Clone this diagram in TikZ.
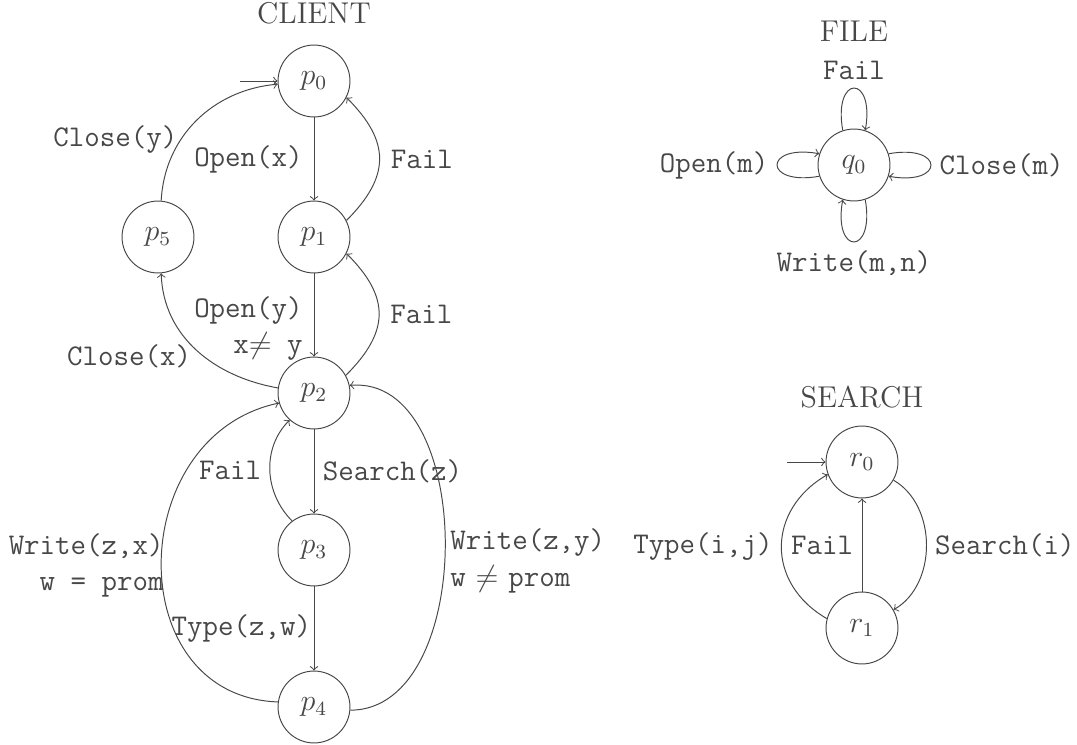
\documentclass[tikz,border=0pt]{standalone}
\definecolor{ink}{HTML}{474747}
\begin{document}
\begin{tikzpicture}[x=0.014457cm,y=-0.014457cm,
  every node/.style={font=\fontsize{12}{14.5}\selectfont, text=ink, scale=1.03},
  st/.style={circle,draw=ink,minimum size=28.7pt,inner sep=0pt},
  tr/.style={draw=ink,->,>=to},
  title/.style={anchor=base}]
\useasboundingbox (0,0) rectangle (1077,745);

% ---------- CLIENT ----------
\node[title] (tc) at (314,23) {CLIENT};
\node[st] (p0) at (314,81) {$p_0$};
\node[st] (p1) at (314,237) {$p_1$};
\node[st] (p2) at (314,393) {$p_2$};
\node[st] (p3) at (314,550) {$p_3$};
\node[st] (p4) at (314,707) {$p_4$};
\node[st] (p5) at (158,237) {$p_5$};
\coordinate (i0) at (240,81);

\draw[tr] (i0) -- (p0);
\draw[tr] (p0) -- node[left,xshift=-1pt] {\texttt{Open(x)}} (p1);
\draw[tr] (p1.27) to[out=45,in=-45,looseness=1.3] node[right,xshift=1pt] {\texttt{Fail}} (p0.-27);
\draw[tr] (p1) -- node[pos=0.66,left,align=right,xshift=-1pt] {\texttt{Open(y)}\\\texttt{x}$\neq$\texttt{ y}} (p2);
\draw[tr] (p2.29) to[out=45,in=-45,looseness=1.3] node[right,xshift=1pt] {\texttt{Fail}} (p1.-27);
\draw[tr] (p2.172) to[out=170,in=-88] node[pos=0.42,left,xshift=-3pt,yshift=1pt] {\texttt{Close(x)}} (p5.-85);
\draw[tr] (p5.85) to[out=87,in=185] node[pos=0.36,left,xshift=2pt] {\texttt{Close(y)}} (p0.185);
\draw[tr] (p2) -- node[right] {\texttt{Search(z)}} (p3);
\draw[tr] (p3.127) to[out=135,in=-135] node[left] {\texttt{Fail}} (p2.-132);
\draw[tr] (p3) -- node[left,inner sep=1pt] {\texttt{Type(z,w)}} (p4);
\draw[tr] (p4.172) to[out=178,in=192,looseness=1.35] node[pos=0.47,left,align=right,inner sep=1pt,xshift=2pt,yshift=4pt] {\texttt{Write(z,x)}\\\texttt{w = prom}} (p2.196);
\draw[tr] (p4.-5) to[out=0,in=5,looseness=1.0] node[pos=0.47,right,align=left,inner sep=2pt,yshift=-1pt] {\texttt{Write(z,y)}\\\texttt{w} $\neq$ \texttt{prom}} (p2.12);

% ---------- FILE ----------
\node[title] (tf) at (854,42) {FILE};
\node[st] (q0) at (854,165) {$q_0$};
\draw[tr] (q0.108) to[out=100,in=80,looseness=6.5] node[above] {\texttt{Fail}} (q0.72);
\draw[tr] (q0.198) to[out=190,in=170,looseness=6.5] node[left] {\texttt{Open(m)}} (q0.162);
\draw[tr] (q0.18) to[out=10,in=-10,looseness=6.5] node[right] {\texttt{Close(m)}} (q0.-18);
\draw[tr] (q0.-72) to[out=-80,in=-100,looseness=6.5] node[below] {\texttt{Write(m,n)}} (q0.-108);

% ---------- SEARCH ----------
\node[title] (ts) at (862,407) {SEARCH};
\node[st] (r0) at (862,462) {$r_0$};
\node[st] (r1) at (862,628) {$r_1$};
\coordinate (i1) at (787,462);
\draw[tr] (i1) -- (r0);
\draw[tr] (r0.-30) to[out=-30,in=30] node[right] {\texttt{Search(i)}} (r1.30);
\draw[tr] (r1) -- node[left] {\texttt{Fail}} (r0);
\draw[tr] (r1.165) to[out=150,in=210,looseness=1.25] node[left] {\texttt{Type(i,j)}} (r0.200);
\end{tikzpicture}
\end{document}
